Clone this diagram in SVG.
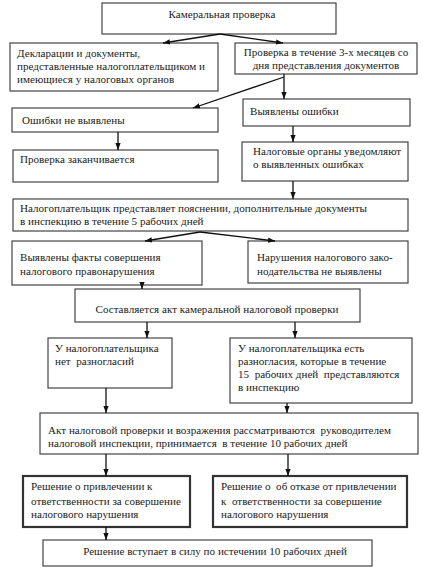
<svg xmlns="http://www.w3.org/2000/svg" width="423" height="572" viewBox="0 0 423 572">
<defs>
<marker id="ah" viewBox="0 0 8 6" refX="8" refY="3" markerWidth="7" markerHeight="5.5" markerUnits="userSpaceOnUse" orient="auto">
<path d="M0,0 L8,3 L0,6 Z" fill="#111"/>
</marker>
</defs>
<style>
.b{fill:#fff;stroke:#444;stroke-width:1.2}
.bb{fill:#fff;stroke:#333;stroke-width:2.2}
text{font-family:"Liberation Serif","Times New Roman",serif;font-size:11.1px;fill:#222}
.c{text-anchor:middle}
.e{stroke:#111;stroke-width:1.3;fill:none;marker-end:url(#ah)}
</style>
<rect width="423" height="572" fill="#fff"/>
<g id="n1"><rect class="b" x="102" y="3" width="234" height="31"/><text class="c" x="222" y="18">Камеральная проверка</text></g>
<g id="n2"><rect class="b" x="10" y="43" width="208" height="48"/><text x="17" y="57">Декларации и документы,</text><text x="17" y="70">представленные налогоплательщиком и</text><text x="17" y="83">имеющиеся у налоговых органов</text></g>
<g id="n3"><rect class="b" x="235" y="43" width="182" height="31"/><text class="c" x="326" y="56">Проверка в течение 3-х месяцев со</text><text class="c" x="326" y="69">дня представления документов</text></g>
<g id="n4"><rect class="b" x="12" y="108" width="206" height="24"/><text x="22" y="124">Ошибки не выявлены</text></g>
<g id="n5"><rect class="b" x="243" y="99" width="167" height="27"/><text x="250" y="115">Выявлены ошибки</text></g>
<g id="n6"><rect class="b" x="13" y="150" width="205" height="32"/><text x="20" y="163">Проверка заканчивается</text></g>
<g id="n7"><rect class="b" x="242" y="142" width="166" height="39"/><text x="253" y="155">Налоговые органы уведомляют</text><text x="253" y="168">о выявленных ошибках</text></g>
<g id="n8"><rect class="b" x="13" y="199" width="395" height="32"/><text x="20" y="212">Налогоплательщик представляет пояснении, дополнительные документы</text><text x="20" y="225">в инспекцию в течение 5 рабочих дней</text></g>
<g id="n9"><rect class="b" x="12" y="241" width="190" height="44"/><text x="20" y="261">Выявлены факты совершения</text><text x="20" y="275">налогового правонарушения</text></g>
<g id="n10"><rect class="b" x="248" y="241" width="160" height="42"/><text x="257" y="261">Нарушения налогового зако-</text><text x="257" y="275">нодательства не выявлены</text></g>
<g id="n11"><rect class="b" x="75" y="289" width="285" height="33"/><text class="c" x="217" y="313">Составляется акт камеральной налоговой проверки</text></g>
<g id="n12"><rect class="b" x="48" y="338" width="124" height="50"/><text x="55" y="352">У налогоплательщика</text><text x="55" y="365" xml:space="preserve">нет  разногласий</text></g>
<g id="n13"><rect class="b" x="230" y="338" width="182" height="65"/><text x="238" y="352">У налогоплательщика есть</text><text x="238" y="365">разногласия, которые в течение</text><text x="238" y="378" xml:space="preserve">15  рабочих дней  представляются</text><text x="238" y="391">в инспекцию</text></g>
<g id="n14"><rect class="b" x="40" y="413" width="378" height="41"/><text x="48" y="434" xml:space="preserve">Акт налоговой проверки и возражения рассматриваются  руководителем</text><text x="48" y="447" xml:space="preserve">налоговой инспекции, принимается  в течение 10 рабочих дней</text></g>
<g id="n15"><rect class="bb" x="23" y="476" width="167" height="51"/><text x="31" y="490">Решение о привлечении к</text><text x="31" y="505">ответственности за совершение</text><text x="31" y="518">налогового нарушения</text></g>
<g id="n16"><rect class="bb" x="213" y="476" width="194" height="51"/><text x="221" y="490" xml:space="preserve">Решение о  об отказе от привлечении</text><text x="221" y="505" xml:space="preserve">к  ответственности за совершение</text><text x="221" y="518">налогового нарушения</text></g>
<g id="n17"><rect class="b" x="43" y="540" width="329" height="26"/><text class="c" x="215" y="555">Решение вступает в силу по истечении 10 рабочих дней</text></g>
<g id="connectors">
<path class="e" d="M220,34 L163,43"/>
<path class="e" d="M220,34 L283,43"/>
<path class="e" d="M284,74 L284,99"/>
<path class="e" d="M284,77 L193,108"/>
<path class="e" d="M118,132 L118,150"/>
<path class="e" d="M293,126 L293,142"/>
<path class="e" d="M293,181 L293,199"/>
<path class="e" d="M200,232 L145,241"/>
<path class="e" d="M200,232 L275,241"/>
<path class="e" d="M142,285 L142,289"/>
<path class="e" d="M147,322 L147,338"/>
<path class="e" d="M295,322 L295,338"/>
<path class="e" d="M106,388 L106,413"/>
<path class="e" d="M287,403 L287,413"/>
<path class="e" d="M106,454 L106,476"/>
<path class="e" d="M288,454 L288,476"/>
<path class="e" d="M106,527 L106,540"/>
</g>
</svg>
